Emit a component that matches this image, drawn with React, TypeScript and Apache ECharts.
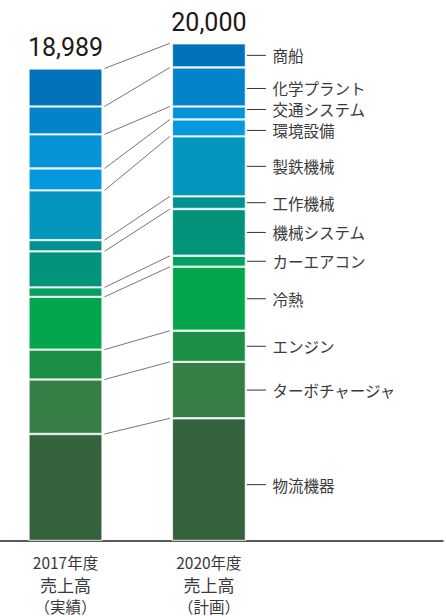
import React, { useEffect, useRef } from "react";
import * as echarts from "echarts";

// ---- data ----
const categories = ["2017年度", "2020年度"];
const categoryKind = ["（実績）", "（計画）"];
const segments = [
  "物流機器",
  "ターボチャージャ",
  "エンジン",
  "冷熱",
  "カーエアコン",
  "機械システム",
  "工作機械",
  "製鉄機械",
  "環境設備",
  "交通システム",
  "化学プラント",
  "商船",
];
const sales2017 = [4300, 2190, 1200, 2120, 380, 1450, 450, 2000, 880, 1370, 1120, 1529];
const sales2020 = [4930, 2270, 1250, 2570, 440, 1880, 510, 2410, 680, 520, 1570, 970];
const totals = [18989, 20000];

// ---- style ----
const segmentColors = [
  "#33623d",
  "#377f47",
  "#1c8f47",
  "#03a64b",
  "#04a062",
  "#03937a",
  "#04908f",
  "#0596be",
  "#0499dc",
  "#0594d8",
  "#0383c9",
  "#0272ba",
];
const labelNudge: Record<string, number> = {
  化学プラント: 1.5,
  交通システム: -3.5,
  環境設備: 2.5,
  物流機器: 5,
};
const BAR_W = 74;
const JP = "'Noto Sans CJK JP', 'Noto Sans', sans-serif";

function cumulative(arr: number[]) {
  const out: number[] = [];
  let s = 0;
  for (const v of arr) {
    s += v;
    out.push(s);
  }
  return out;
}

export default function App() {
  const ref = useRef<HTMLDivElement>(null);

  useEffect(() => {
    document.body.style.margin = "0";
    if (!ref.current) return;
    const chart = echarts.init(ref.current, undefined, { renderer: "svg" });

    const cum17 = cumulative(sales2017);
    const cum20 = cumulative(sales2020);
    const half = BAR_W / 2;

    const barSeries = segments.map((name, i) => ({
      name,
      type: "bar",
      stack: "total",
      xAxisIndex: 0,
      yAxisIndex: 0,
      barWidth: BAR_W,
      clip: false,
      data: [sales2017[i], sales2020[i]],
      itemStyle: {
        color: segmentColors[i],
        borderColor: "rgba(255,255,255,0.7)",
        borderWidth: 1.2,
      },
      label:
        i === segments.length - 1
          ? {
              show: true,
              position: "top",
              distance: 8,
              formatter: (p: any) => totals[p.dataIndex].toLocaleString("en-US"),
              fontFamily: "Roboto, sans-serif",
              fontSize: 25,
              color: "#231815",
            }
          : { show: false },
      emphasis: { disabled: true },
    }));

    const connectorData = segments.map((_, i) => [0, cum17[i], cum20[i]]);
    const labelData = segments.map((_, i) => [1, i === 0 ? 0 : cum20[i - 1], cum20[i]]);

    const option: any = {
      animation: false,
      grid: [
        // bar grid: category ticks sit on the bar centres
        { left: 65.5, width: 143.4, top: 43.3, bottom: 75 },
        // full-width grid that only carries the baseline
        { left: 0, right: 3, top: 43.3, bottom: 75 },
      ],
      xAxis: [
        {
          type: "category",
          gridIndex: 0,
          data: categories,
          boundaryGap: false,
          axisLine: { show: false },
          axisTick: { show: false },
          axisLabel: {
            interval: 0,
            margin: 10,
            formatter: (v: string, idx: number) =>
              `{a|${v}}\n{b|売上高}\n{c|${categoryKind[idx]}}`,
            rich: {
              a: { fontFamily: JP, fontSize: 15.5, lineHeight: 22, color: "#3a3a3a" },
              b: { fontFamily: JP, fontSize: 17, lineHeight: 22, color: "#3a3a3a" },
              c: { fontFamily: JP, fontSize: 15.5, lineHeight: 21, color: "#3a3a3a" },
            },
          },
        },
        {
          type: "value",
          gridIndex: 1,
          min: 0,
          max: 1,
          axisLine: { show: true, onZero: false, lineStyle: { color: "#222", width: 1.5 } },
          axisTick: { show: false },
          axisLabel: { show: false },
          splitLine: { show: false },
        },
      ],
      yAxis: [
        { type: "value", gridIndex: 0, min: 0, max: 20000, show: false },
        { type: "value", gridIndex: 1, min: 0, max: 1, show: false },
      ],
      series: [
        ...barSeries,
        {
          type: "custom",
          xAxisIndex: 0,
          yAxisIndex: 0,
          clip: false,
          data: connectorData,
          encode: { x: 0, y: [1, 2] },
          silent: true,
          renderItem: (params: any, api: any) => {
            const a = api.coord([0, api.value(1)]);
            const b = api.coord([1, api.value(2)]);
            return {
              type: "line",
              shape: { x1: a[0] + half + 2, y1: a[1], x2: b[0] - half - 2, y2: b[1] },
              style: { stroke: "#666", lineWidth: 0.9 },
            };
          },
        },
        {
          type: "custom",
          xAxisIndex: 0,
          yAxisIndex: 0,
          clip: false,
          data: labelData,
          encode: { x: 0, y: [1, 2] },
          silent: true,
          renderItem: (params: any, api: any) => {
            const name = segments[params.dataIndex];
            const mid = api.coord([1, (api.value(1) + api.value(2)) / 2]);
            const x = mid[0] + half;
            const y = mid[1] + (labelNudge[name] || 0);
            return {
              type: "group",
              children: [
                {
                  type: "line",
                  shape: { x1: x + 1, y1: y, x2: x + 20, y2: y },
                  style: { stroke: "#333", lineWidth: 1 },
                },
                {
                  type: "text",
                  x: x + 26.5,
                  y: y,
                  style: {
                    text: name,
                    fill: "#3a3a3a",
                    fontFamily: JP,
                    fontSize: 15.5,
                    lineHeight: 16,
                    align: "left",
                    verticalAlign: "middle",
                  },
                },
              ],
            };
          },
        },
      ],
    };

    chart.setOption(option);
    return () => chart.dispose();
  }, []);

  return (
    <div
      ref={ref}
      style={{ position: "absolute", left: 0, top: 0, width: 446, height: 616 }}
    />
  );
}
